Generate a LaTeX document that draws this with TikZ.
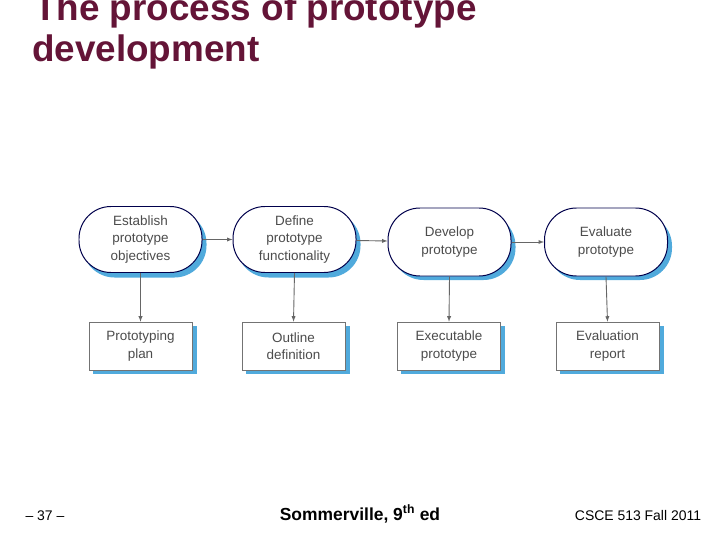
\documentclass[tikz,border=0pt]{standalone}
\usepackage{fontspec}
\setmainfont{Liberation Sans}
\begin{document}
\begin{tikzpicture}[x=1bp,y=-1bp,
  proc/.style={draw=black!70!blue,line width=1pt,fill=white,rounded corners=32bp,minimum width=123bp,minimum height=66bp,align=center,font=\fontsize{13.5}{17.5}\selectfont,text=black!70},
  doc/.style={draw=black!55,line width=0.6pt,fill=white,minimum width=103bp,minimum height=48bp,align=center,font=\fontsize{13.5}{17.5}\selectfont,text=black!70},
  shd/.style={fill=shadowblue,draw=none},
  arr/.style={draw=black!60,line width=0.9pt,-latex}]
\definecolor{shadowblue}{RGB}{80,170,220}
\definecolor{maroon}{RGB}{100,20,55}
\useasboundingbox (0,0) rectangle (720,540);
\fill[white] (0,0) rectangle (720,540);
\node[anchor=base west,font=\bfseries\fontsize{37}{40}\selectfont,text=maroon,inner sep=0pt] (t1) at (34,21) {The process of prototype};
\node[anchor=base west,font=\bfseries\fontsize{37}{40}\selectfont,text=maroon,inner sep=0pt] (t2) at (32,62) {development};
% shadows
\foreach \cx/\cy in {140.5/239.5,294.5/239.5,449.5/242,606/242}{
  \fill[shd,rounded corners=32bp] (\cx-58,\cy-28) rectangle (\cx+66,\cy+38);}
\foreach \cx in {140.5,293.5,449,607.5}{
  \fill[shd] (\cx-48,326) rectangle (\cx+56,374);}
\node[proc] (p1) at (140.5,239.5) {Establish\\prototype\\objectives};
\node[proc] (p2) at (294.5,239.5) {Define\\prototype\\functionality};
\node[proc,minimum height=68bp] (p3) at (449.5,242) {Develop\\prototype};
\node[proc,minimum height=68bp] (p4) at (606,242) {Evaluate\\prototype};
\node[doc] (d1) at (140.5,346) {Prototyping\\plan};
\node[doc] (d2) at (293.5,346) {Outline\\definition};
\node[doc] (d3) at (449,346) {Executable\\prototype};
\node[doc] (d4) at (607.5,346) {Evaluation\\report};
\draw[arr] (p1) -- (p2);
\draw[arr] (p2) -- (p3);
\draw[arr] (p3) -- (p4);
\foreach \i in {1,2,3,4}{\draw[arr] (p\i.south) -- (d\i.north);}
\node[anchor=base,font=\fontsize{14}{16}\selectfont] (f1) at (45,520) {– 37 –};
\node[anchor=base,font=\bfseries\fontsize{17.5}{20}\selectfont] (f2) at (360,520) {Sommerville, 9\textsuperscript{th} ed};
\node[anchor=base,font=\fontsize{14}{16}\selectfont] (f3) at (638,520) {CSCE 513 Fall 2011};
\end{tikzpicture}
\end{document}
